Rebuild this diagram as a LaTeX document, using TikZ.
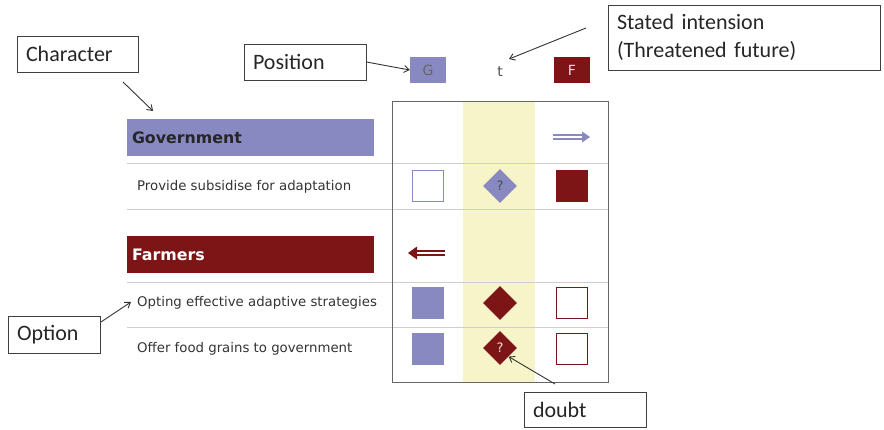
\documentclass[tikz,border=0pt]{standalone}
\usepackage{fontspec}
\setmainfont{Carlito}
\newfontfamily\tabfont{DejaVu Sans}
\usetikzlibrary{shapes.geometric,arrows.meta}
\definecolor{gov}{HTML}{8789C0}
\definecolor{farm}{HTML}{7D1517}
\definecolor{ybg}{HTML}{F6F4C8}
\definecolor{sep}{HTML}{CFCFCF}
\definecolor{txt}{HTML}{333333}
\begin{document}
\begin{tikzpicture}[x=1pt,y=-1pt,
  callout/.style={draw=black!75, line width=1pt, inner xsep=9pt, inner ysep=0pt, align=left, font=\fontsize{22}{26}\selectfont, text=black!85},
  pointer/.style={draw=black!80, line width=0.9pt, -{Straight Barb[length=5pt,width=7pt]}},
  hdr/.style={minimum width=36pt, minimum height=26pt, inner sep=0pt, font=\tabfont\fontsize{14}{16}\selectfont},
  bar/.style={minimum width=247pt, minimum height=37pt, inner xsep=5pt, text width=237pt, align=left, font=\tabfont\bfseries\fontsize{15.8}{18}\selectfont},
  rowtxt/.style={anchor=west, inner sep=0pt, text=txt, font=\tabfont\fontsize{13.3}{16}\selectfont},
  sqG/.style={minimum size=31pt, inner sep=0pt, draw=gov, line width=1pt},
  sqF/.style={minimum size=31pt, inner sep=0pt, draw=farm, line width=1pt},
  dia/.style={diamond, minimum size=34pt, inner sep=0pt, font=\tabfont\fontsize{13}{15}\selectfont},
  seprule/.style={draw=sep, line width=0.8pt},
  dblarrow/.style={double, line width=2.4pt, double distance=2pt}
]
\useasboundingbox (0,0) rectangle (884,429);

% grid background
\fill[ybg] (463,101) rectangle (535,382);
\draw[seprule] (127,163) -- (608,163);
\draw[seprule] (127,209) -- (608,209);
\draw[seprule] (127,282) -- (608,282);
\draw[seprule] (127,327) -- (608,327);
\node[draw=black!60, line width=1pt, minimum width=216pt, minimum height=281pt, inner sep=0pt] (grid) at (500,241.5) {};

% column headers
\node[hdr, fill=gov, text=black!60] (G) at (428,70) {G};
\node[inner sep=0pt, text=black!70, font=\tabfont\fontsize{14}{16}\selectfont] (t) at (500,72) {t};
\node[hdr, fill=farm, text=white!85!farm] (F) at (572,70) {F};

% character bars
\node[bar, fill=gov, text=black!85] (gov) at (250.5,137.5) {Government};
\node[bar, fill=farm, text=white] (farm) at (250.5,254.5) {Farmers};

% option texts
\node[rowtxt] (o1) at (137,187) {Provide subsidise for adaptation};
\node[rowtxt] (o2) at (137,303) {Opting effective adaptive strategies};
\node[rowtxt] (o3) at (137,349) {Offer food grains to government};

% positions: government row
\coordinate (ga1) at (553,137);
\coordinate (ga2) at (590,137);
\draw[gov, dblarrow] (ga1) -- (583,137);
\fill[gov] (ga2) -- (582,131.5) -- (582,142.5) -- cycle;

% row 1
\node[sqG, fill=white] (r1g) at (427.5,185.5) {};
\node[dia, fill=gov, text=black!70] (r1t) at (500,186) {?};
\node[sqF, fill=farm] (r1f) at (571.5,185.5) {};

% farmers row arrow
\coordinate (fa1) at (445,253);
\coordinate (fa2) at (408,253);
\draw[farm, dblarrow] (fa1) -- (415,253);
\fill[farm] (fa2) -- (417,246.5) -- (417,259.5) -- cycle;

% row 2
\node[sqG, fill=gov] (r2g) at (427.5,303) {};
\node[dia, fill=farm] (r2t) at (500,303) {};
\node[sqF, fill=white] (r2f) at (571.5,303) {};

% row 3
\node[sqG, fill=gov] (r3g) at (427.5,348.5) {};
\node[dia, fill=farm, text=white!85!farm] (r3t) at (500,348) {?};
\node[sqF, fill=white] (r3f) at (571.5,348.5) {};

% callouts
\node[callout, text width=103pt, minimum height=36pt] (character) at (77.5,54) {Character};
\node[callout, text width=104pt, minimum height=36pt] (position) at (305,62) {Position};
\node[callout, text width=254pt, minimum height=65pt, font=\fontsize{22}{28}\selectfont] (stated) at (744,37.5) {Stated intension\\(Threatened future)};
\node[callout, text width=74pt, minimum height=37pt] (option) at (54,334.5) {Option};
\node[callout, text width=104pt, minimum height=35pt] (doubt) at (585,409.5) {doubt};

\coordinate (cs) at (123,82);
\coordinate (ce) at (153,111);
\draw[pointer] (cs) -- (ce);
\draw[pointer] (position.east) -- (G.west);
\coordinate (ss) at (586,28);
\coordinate (se) at (509,59);
\draw[pointer] (ss) -- (se);
\coordinate (os) at (101,322);
\coordinate (oe) at (131,302);
\draw[pointer] (os) -- (oe);
\coordinate (ds) at (555,384);
\draw[pointer] (ds) -- (r3t.south east);
\end{tikzpicture}
\end{document}
